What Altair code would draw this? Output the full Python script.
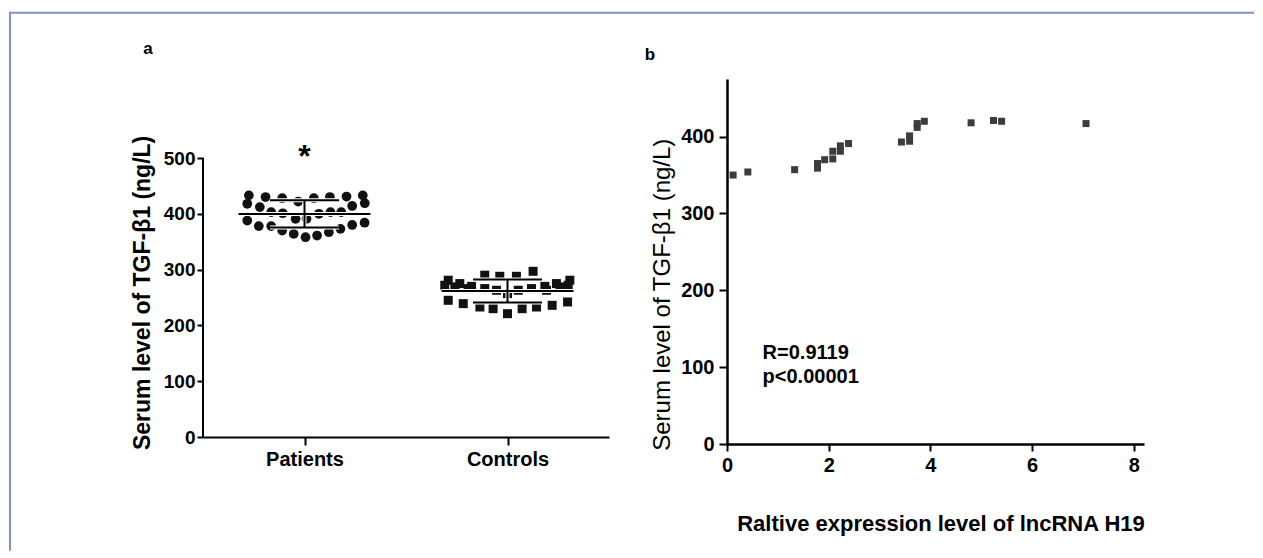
import altair as alt
import pandas as pd
import numpy as np

FONT = "Liberation Sans"

# ---------------- Panel a data ----------------
categories = ["Patients", "Controls"]
patients_val = [433, 418, 412, 430, 403, 428, 401, 422, 391, 391, 428, 400, 430, 403, 403,
                431, 414, 433, 419, 388, 378, 378, 370, 364, 358, 361, 367, 373, 380, 384]
patients_off = [-0.274, -0.282, -0.220, -0.192, -0.164, -0.110, -0.107, -0.031, -0.044, 0.010,
                0.046, 0.071, 0.125, 0.128, 0.181, 0.207, 0.235, 0.287, 0.297, -0.282,
                -0.225, -0.164, -0.110, -0.053, 0.005, 0.062, 0.120, 0.177, 0.235, 0.296]
controls_val = [281, 275, 270, 290, 288, 288, 297, 270, 275, 281,
                266, 263, 257, 263, 266, 269, 266, 263, 269, 272,
                245, 239, 233, 230, 221, 230, 233, 236, 242, 272]
controls_off = [-0.292, -0.235, -0.177, -0.112, -0.038, 0.044, 0.126, 0.184, 0.241, 0.307,
                -0.112, -0.054, 0.0, 0.053, 0.118, -0.259, -0.194, 0.192, 0.258, 0.299,
                -0.292, -0.218, -0.136, -0.071, 0.0, 0.072, 0.143, 0.220, 0.296, -0.309]
ticks_a = [0, 100, 200, 300, 400, 500]

# ---------------- Panel b data ----------------
h19_expr = [0.12, 0.41, 1.33, 1.78, 1.78, 1.92, 2.08, 2.08, 2.23, 2.23, 2.39,
            3.43, 3.59, 3.59, 3.74, 3.74, 3.88, 4.80, 5.24, 5.40, 7.06]
tgf_level = [350, 354, 357, 359, 365, 370, 371, 381, 381, 388, 391,
             393, 394, 401, 412, 417, 420, 418, 421, 420, 417]
ticks_bx = [0, 2, 4, 6, 8]
ticks_by = [0, 100, 200, 300, 400]
stat_text = ["R=0.9119", "p<0.00001"]

ytitle = "Serum level of TGF-\u03b21 (ng/L)"
xtitle_b = "Raltive expression level of lncRNA H19"

one = pd.DataFrame({"k": [0]})

# ---------- Panel a ----------
pat = pd.DataFrame({"x": [1 + o for o in patients_off], "y": patients_val})
con = pd.DataFrame({"x": [2 + o for o in controls_off], "y": controls_val})

rows = []
for g, vals in ((1, patients_val), (2, controls_val)):
    m = float(np.mean(vals))
    s = float(np.std(vals, ddof=1))
    rows.append({"x": g - 0.325, "x2": g + 0.325, "y": m, "y2": m})
    rows.append({"x": g - 0.17, "x2": g + 0.17, "y": m + s, "y2": m + s})
    rows.append({"x": g - 0.17, "x2": g + 0.17, "y": m - s, "y2": m - s})
    rows.append({"x": g, "x2": g, "y": m - s, "y2": m + s})
stats = pd.DataFrame(rows)

label_expr = "['" + "','".join(categories) + "'][datum.value - 1]"
xa = alt.X("x:Q", scale=alt.Scale(domain=[0.5, 2.5], nice=False, zero=False),
           axis=alt.Axis(values=[1, 2], labelExpr=label_expr, title=None, grid=False,
                         tickSize=8, tickWidth=2, domainWidth=2, labelFontSize=20,
                         labelFontWeight="bold", labelPadding=4, labelFlush=False))
ya = alt.Y("y:Q", scale=alt.Scale(domain=[0, 641.6], nice=False, zero=False),
           axis=alt.Axis(values=ticks_a, domain=False, grid=False, tickSize=6, tickWidth=2,
                         labelFontSize=19, labelFontWeight="bold", labelPadding=2,
                         title=ytitle, titleFontSize=23, titleFontWeight="bold",
                         titleAngle=270, titleX=-61, titleY=213.4, titleAlign="center",
                         titleBaseline="middle"))

frame_color = "#8190c0"
frame_left = alt.Chart(one).mark_rule(color=frame_color, strokeWidth=2).encode(
    x=alt.value(-193), y=alt.value(-66.3), y2=alt.value(471.7))
frame_top = alt.Chart(one).mark_rule(color=frame_color, strokeWidth=2).encode(
    x=alt.value(-194), x2=alt.value(1051), y=alt.value(-66.3))
label_a = alt.Chart(one).mark_text(font=FONT, fontSize=17, fontWeight="bold",
                                   color="black", baseline="middle").encode(
    x=alt.value(-55), y=alt.value(-30), text=alt.value("a"))
yaxis_a = alt.Chart(one).mark_rule(color="black", strokeWidth=2).encode(
    x=alt.value(0), y=alt.datum(0), y2=alt.datum(500))

pts_p = alt.Chart(pat).mark_circle(size=95, color="#111111", opacity=1).encode(x=xa, y=ya)
pts_c = alt.Chart(con).mark_square(size=81, color="#111111", opacity=1).encode(x=xa, y=ya)
halo = alt.Chart(stats).mark_rule(color="white", strokeWidth=4).encode(
    x=xa, x2="x2:Q", y=ya, y2="y2:Q")
bars = alt.Chart(stats).mark_rule(color="black", strokeWidth=2).encode(
    x=xa, x2="x2:Q", y=ya, y2="y2:Q")
star = alt.Chart(pd.DataFrame({"x": [1], "y": [483], "t": ["*"]})).mark_text(
    font=FONT, fontSize=32, fontWeight="bold", color="black", baseline="alphabetic").encode(
    x=xa, y=ya, text="t:N")

panel_a = alt.layer(frame_left, frame_top, label_a, pts_p, pts_c, halo, bars, star,
                    yaxis_a).properties(width=406, height=358)

# ---------- Panel b ----------
dfb = pd.DataFrame({"x": h19_expr, "y": tgf_level})
xb = alt.X("x:Q", scale=alt.Scale(domain=[0, 8.2], nice=False),
           axis=alt.Axis(values=ticks_bx, format="d", grid=False, tickSize=7, tickWidth=2,
                         domainWidth=2.5, labelFontSize=20, labelFontWeight="bold",
                         labelPadding=4, labelFlush=False, title=xtitle_b, titleFontSize=22,
                         titleFontWeight="bold", titleX=213.5, titleY=79.7,
                         titleAlign="center", titleBaseline="middle"))
yb = alt.Y("y:Q", scale=alt.Scale(domain=[0, 475], nice=False),
           axis=alt.Axis(values=ticks_by, grid=False, tickSize=8, tickWidth=2,
                         domainWidth=2.5, labelFontSize=20, labelFontWeight="bold",
                         labelPadding=5, title=ytitle, titleFontSize=24,
                         titleFontWeight="normal", titleAngle=270, titleX=-64.3,
                         titleY=215.2, titleAlign="center", titleBaseline="middle"))

pts_b = alt.Chart(dfb).mark_square(size=49, color="#3c3c3c", opacity=1).encode(x=xb, y=yb)
txt_b = alt.Chart(pd.DataFrame({"x": [0.70, 0.70], "y": [119, 86.7], "t": stat_text})).mark_text(
    font=FONT, fontSize=20, fontWeight="bold", color="black", align="left",
    baseline="middle").encode(x=xb, y=yb, text="t:N")
label_b = alt.Chart(one).mark_text(font=FONT, fontSize=17, fontWeight="bold",
                                   color="black", baseline="middle").encode(
    x=alt.value(-77), y=alt.value(-24), text=alt.value("b"))

panel_b = alt.layer(pts_b, txt_b, label_b).properties(width=417, height=365)

chart = alt.hconcat(panel_a, panel_b, spacing=118, bounds="flush").properties(
    padding={"left": 0, "top": 3, "right": 0, "bottom": 0},
    background="white",
).configure_view(stroke=None).configure_axis(
    domainColor="black", tickColor="black", labelColor="black", titleColor="black",
    labelFont=FONT, titleFont=FONT)

chart.save("out.html", embed_options={"renderer": "svg", "actions": False})
